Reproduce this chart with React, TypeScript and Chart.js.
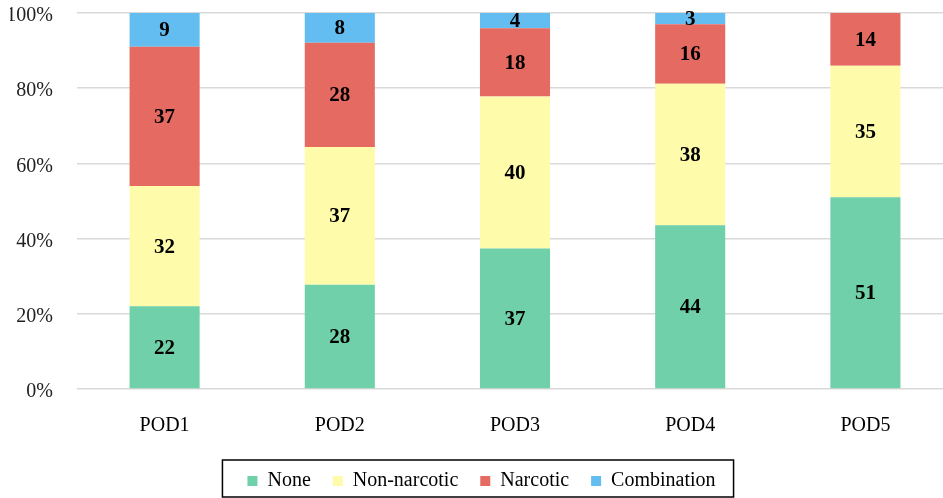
import React, { useEffect, useRef } from "react";
import { Chart, registerables } from "chart.js";

Chart.register(...registerables);

const categories = ["POD1", "POD2", "POD3", "POD4", "POD5"];
const seriesNames = ["None", "Non-narcotic", "Narcotic", "Combination"];
const noneValues = [22, 28, 37, 44, 51];
const nonNarcoticValues = [32, 37, 40, 38, 35];
const narcoticValues = [37, 28, 18, 16, 14];
const combinationValues = [9, 8, 4, 3, 0];
const yTickValues = [0, 20, 40, 60, 80, 100];
const seriesColors = ["#6fd0a9", "#fefbab", "#e56a62", "#63bdf1"];

const FONT = "'Liberation Serif', 'Times New Roman', serif";

export default function App() {
  const ref = useRef<HTMLCanvasElement>(null);

  useEffect(() => {
    if (!ref.current) return;
    const series = [noneValues, nonNarcoticValues, narcoticValues, combinationValues];
    const totals = categories.map((_, i) => series.reduce((s, arr) => s + arr[i], 0));
    const datasets = series.map((arr, k) => ({
      label: seriesNames[k],
      data: arr.map((v, i) => (v / totals[i]) * 100),
      backgroundColor: seriesColors[k],
      borderWidth: 0,
      barPercentage: 0.8,
      categoryPercentage: 0.5,
    }));

    const labelPlugin = {
      id: "segLabels",
      afterDatasetsDraw(chart: any) {
        const ctx = chart.ctx;
        ctx.save();
        ctx.font = `bold 21px ${FONT}`;
        ctx.fillStyle = "#000";
        ctx.textAlign = "center";
        ctx.textBaseline = "middle";
        chart.data.datasets.forEach((_ds: any, k: number) => {
          const meta = chart.getDatasetMeta(k);
          meta.data.forEach((el: any, i: number) => {
            const c = series[k][i];
            if (!c) return;
            const { x, y, base } = el.getProps(["x", "y", "base"], true);
            ctx.fillText(String(c), x, (y + base) / 2 + 1);
          });
        });
        ctx.restore();
      },
    };

    const legendBoxPlugin = {
      id: "legendBox",
      afterDraw(chart: any) {
        const hb = chart.legend?.legendHitBoxes;
        if (!hb || !hb.length) return;
        const first = hb[0];
        const last = hb[hb.length - 1];
        const cy = first.top + first.height / 2;
        const ctx = chart.ctx;
        ctx.save();
        ctx.strokeStyle = "#000";
        ctx.lineWidth = 1.5;
        ctx.strokeRect(first.left - 25, cy - 21, last.left + last.width + 18 - (first.left - 25), 37);
        ctx.restore();
      },
    };

    const chart = new Chart(ref.current, {
      type: "bar",
      data: { labels: categories, datasets },
      options: {
        responsive: false,
        animation: false,
        layout: { padding: { top: 0, right: 7, bottom: 0, left: 10 } },
        plugins: {
          legend: {
            position: "bottom",
            labels: {
              boxWidth: 10,
              boxHeight: 10,
              padding: 22,
              color: "#000",
              font: { family: FONT, size: 20 },
            },
          },
          tooltip: { enabled: false },
        },
        scales: {
          x: {
            stacked: true,
            grid: { display: false, drawTicks: false },
            border: { display: false },
            ticks: { color: "#000", padding: 25, font: { family: FONT, size: 20 } },
            afterFit(scale: any) {
              scale.height = 60;
            },
          },
          y: {
            stacked: true,
            min: 0,
            max: 100,
            afterBuildTicks(scale: any) {
              scale.ticks = yTickValues.map((v) => ({ value: v }));
            },
            grid: { color: "#d9d9d9", lineWidth: 1.5, drawTicks: false },
            border: { display: false },
            ticks: {
              color: "#222",
              padding: 24,
              labelOffset: 3,
              font: { family: FONT, size: 20 },
              callback: (v: any) => `${v}%`,
            },
            afterFit(scale: any) {
              scale.width = 67;
              scale.paddingTop = 13;
              scale.paddingBottom = 0;
            },
          },
        },
      },
      plugins: [labelPlugin, legendBoxPlugin],
    } as any);

    return () => chart.destroy();
  }, []);

  return (
    <div style={{ position: "absolute", left: 0, top: 0, width: 943, height: 498, overflow: "hidden", background: "#fff" }}>
      <canvas ref={ref} width={960} height={501} style={{ display: "block" }} />
    </div>
  );
}
